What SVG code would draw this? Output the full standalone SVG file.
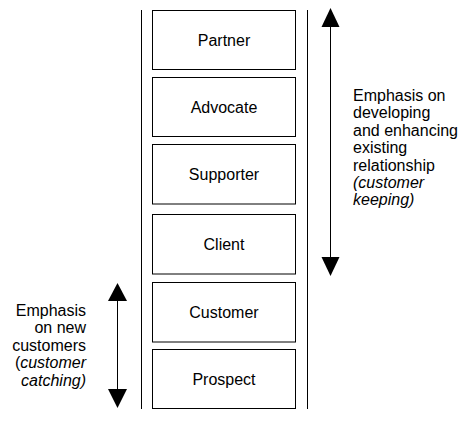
<svg xmlns="http://www.w3.org/2000/svg" width="474" height="431" viewBox="0 0 474 431">
<style>
.box{fill:#fff;stroke:#000;stroke-width:1}
.lbl{font-family:"Liberation Sans",Arial,sans-serif;font-size:16px;fill:#000;text-anchor:middle}
.note{font-family:"Liberation Sans",Arial,sans-serif;font-size:16px;fill:#000}
.ln{stroke:#000;stroke-width:1;fill:none}
.ah{fill:#000;stroke:none}
</style>
<rect width="474" height="431" fill="#fff"/>
<g id="connectors">
<line class="ln" x1="141.5" y1="10" x2="141.5" y2="409"/>
<line class="ln" x1="307.5" y1="10" x2="307.5" y2="409"/>
<line class="ln" x1="330.5" y1="20" x2="330.5" y2="265"/>
<polygon class="ah" points="330.5,8 321.5,27 339.5,27"/>
<polygon class="ah" points="330.5,276 321.5,257 339.5,257"/>
<line class="ln" x1="117.5" y1="295" x2="117.5" y2="395"/>
<polygon class="ah" points="117.5,283 108,301 127,301"/>
<polygon class="ah" points="117.5,408 108,389 127,389"/>
</g>
<g id="partner"><rect class="box" x="152.5" y="10.5" width="143" height="59"/><text class="lbl" x="224" y="45.5">Partner</text></g>
<g id="advocate"><rect class="box" x="152.5" y="77.5" width="143" height="59"/><text class="lbl" x="224" y="112.5">Advocate</text></g>
<g id="supporter"><rect class="box" x="152.5" y="144.5" width="143" height="59.5"/><text class="lbl" x="224" y="180">Supporter</text></g>
<g id="client"><rect class="box" x="152.5" y="214.5" width="143" height="59.5"/><text class="lbl" x="224" y="250">Client</text></g>
<g id="customer"><rect class="box" x="152.5" y="282.5" width="143" height="59.5"/><text class="lbl" x="224" y="318">Customer</text></g>
<g id="prospect"><rect class="box" x="152.5" y="349.5" width="143" height="59"/><text class="lbl" x="224" y="385">Prospect</text></g>
<g id="note-keeping">
<text class="note" x="353" y="101">Emphasis on</text>
<text class="note" x="353" y="118.4">developing</text>
<text class="note" x="353" y="135.8">and enhancing</text>
<text class="note" x="353" y="153.2">existing</text>
<text class="note" x="353" y="170.6">relationship</text>
<text class="note" x="353" y="188"><tspan font-style="italic">(customer</tspan></text>
<text class="note" x="353" y="205.4"><tspan font-style="italic">keeping)</tspan></text>
</g>
<g id="note-catching" text-anchor="end">
<text class="note" x="86" y="316" text-anchor="end">Emphasis</text>
<text class="note" x="86" y="333.4" text-anchor="end">on new</text>
<text class="note" x="86" y="350.8" text-anchor="end">customers</text>
<text class="note" x="86" y="368.2" text-anchor="end">(<tspan font-style="italic">customer</tspan></text>
<text class="note" x="86" y="385.6" text-anchor="end"><tspan font-style="italic">catching)</tspan></text>
</g>
</svg>
